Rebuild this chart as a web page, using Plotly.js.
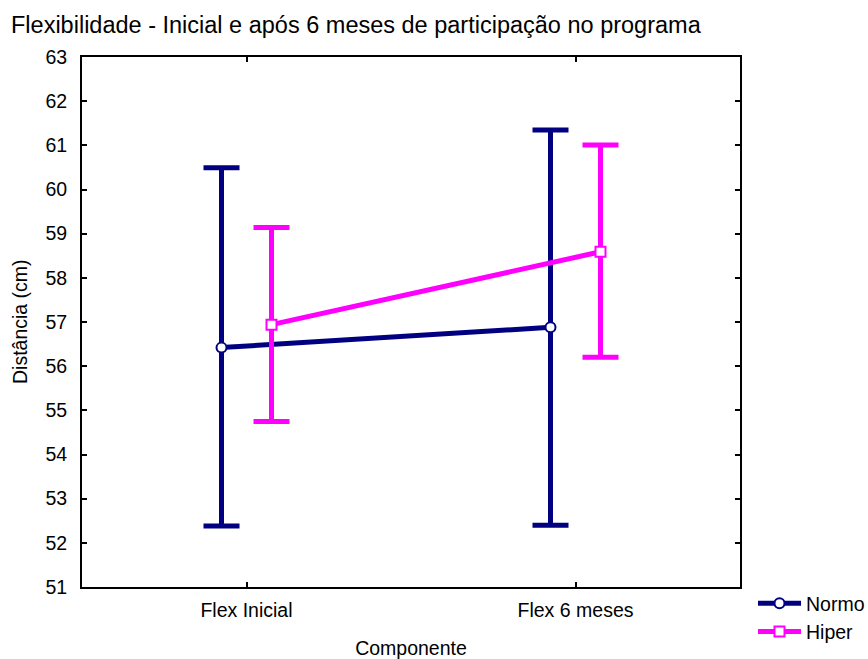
<!DOCTYPE html>
<html>
<head>
<meta charset="utf-8">
<script src="https://cdn.plot.ly/plotly-3.0.1.min.js"></script>
<style>
  html, body { margin: 0; padding: 0; background: #ffffff; }
  #chart { width: 868px; height: 659px; }
</style>
</head>
<body>
<div id="chart"></div>
<script>
// Componentes avaliados
const categories = ['Flex Inicial', 'Flex 6 meses'];

// Médias e limites do intervalo (cm)
const normoMean  = [56.42, 56.88];
const normoUpper = [60.49, 61.35];
const normoLower = [52.38, 52.40];

const hiperMean  = [56.94, 58.59];
const hiperUpper = [59.14, 61.01];
const hiperLower = [54.75, 56.20];

const yTicks = [51, 52, 53, 54, 55, 56, 57, 58, 59, 60, 61, 62, 63];

const FONT = 'Liberation Sans, Arial, sans-serif';
const NAVY = '#000080';
const MAGENTA = '#ff00ff';
const LABEL_SIZE = 19.5;

// side-by-side placement of the two groups around each category
const shift = 0.076;
const idx = categories.map((_, i) => i);

function series(name, mean, upper, lower, dx, color, symbol) {
  return {
    type: 'scatter',
    mode: 'lines+markers',
    name: name,
    x: idx.map(i => i + dx),
    y: mean,
    line: { color: color, width: 5 },
    marker: { symbol: symbol, size: 10, color: '#ffffff', line: { color: color, width: 2 } },
    error_y: {
      type: 'data',
      symmetric: false,
      array: upper.map((u, i) => u - mean[i]),
      arrayminus: lower.map((l, i) => mean[i] - l),
      color: color,
      thickness: 5,
      width: 18
    }
  };
}

const data = [
  series('Normo', normoMean, normoUpper, normoLower, -shift, NAVY, 'circle'),
  series('Hiper', hiperMean, hiperUpper, hiperLower, shift, MAGENTA, 'square')
];

const axisCommon = {
  ticks: 'inside',
  ticklen: 5,
  tickwidth: 2,
  tickcolor: '#000000',
  showgrid: false,
  zeroline: false,
  showline: true,
  linecolor: '#000000',
  linewidth: 2,
  mirror: 'ticks',
  automargin: false,
  tickfont: { family: FONT, size: LABEL_SIZE }
};

const layout = {
  width: 868,
  height: 659,
  margin: { l: 82, r: 128, t: 57, b: 72 },
  paper_bgcolor: '#ffffff',
  plot_bgcolor: '#ffffff',
  font: { family: FONT, size: LABEL_SIZE, color: '#000000' },
  title: {
    text: 'Flexibilidade - Inicial e após 6 meses de participação no programa',
    font: { family: FONT, size: 23.5, color: '#000000' },
    xref: 'container', x: 11 / 868, xanchor: 'left',
    yref: 'container', y: 1 - 25 / 659, yanchor: 'middle'
  },
  xaxis: Object.assign({}, axisCommon, {
    range: [-0.5, 1.5],
    tickmode: 'array',
    tickvals: idx,
    ticktext: categories,
    ticklabelstandoff: 5,
    title: { text: 'Componente', font: { family: FONT, size: LABEL_SIZE }, standoff: 31 }
  }),
  yaxis: Object.assign({}, axisCommon, {
    range: [51, 63],
    tickmode: 'array',
    tickvals: yTicks,
    ticklabelstandoff: 9
  }),
  annotations: [{
    text: 'Distância (cm)',
    textangle: -90,
    xref: 'paper', x: (20 - 82) / 658, xanchor: 'center',
    yref: 'paper', y: 0.5, yanchor: 'middle',
    showarrow: false,
    font: { family: FONT, size: LABEL_SIZE, color: '#000000' }
  }],
  showlegend: true,
  legend: {
    xref: 'container', x: 753 / 868, xanchor: 'left',
    yref: 'container', y: 1 - 584 / 659, yanchor: 'top',
    bgcolor: 'rgba(0,0,0,0)',
    font: { family: FONT, size: LABEL_SIZE },
    tracegroupgap: 0,
    itemwidth: 43
  }
};

Plotly.newPlot('chart', data, layout, { displayModeBar: false, staticPlot: true });
</script>
</body>
</html>
